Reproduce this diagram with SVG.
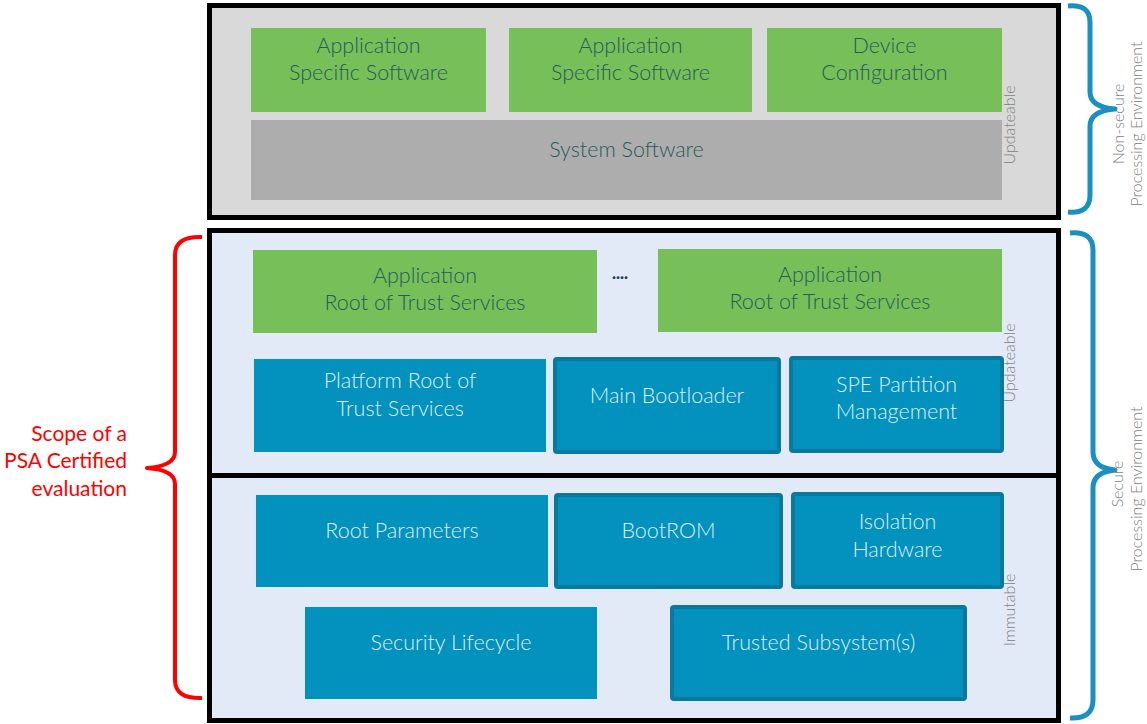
<svg xmlns="http://www.w3.org/2000/svg" width="1147" height="724" viewBox="0 0 1147 724">
  <style>
    .frame { stroke: #000; stroke-width: 5; }
    .green { fill: #77bf58; }
    .grey { fill: #adadad; }
    .blue { fill: #0391be; }
    .blue-b { fill: #0391be; stroke: #0b789d; stroke-width: 4; }
    .t-dark { font-family: Lato, "Open Sans", "Liberation Sans", sans-serif; font-weight: 300; font-size: 21.5px; fill: #285a5c; text-anchor: middle; }
    .t-light { font-family: Lato, "Open Sans", "Liberation Sans", sans-serif; font-weight: 300; font-size: 21.5px; fill: #dbeff7; text-anchor: middle; }
    .t-side { font-family: Lato, "Open Sans", "Liberation Sans", sans-serif; font-weight: 300; font-size: 16px; fill: #808080; text-anchor: middle; }
    .t-scope { font-family: Lato, "Open Sans", "Liberation Sans", sans-serif; font-weight: 400; font-size: 21px; fill: #ff0000; text-anchor: end; }
    .brace-blue { fill: none; stroke: #1a8fc1; stroke-width: 5; stroke-linejoin: round; }
    .brace-red { fill: none; stroke: #ff0000; stroke-width: 4; stroke-linejoin: round; }
  </style>

  <!-- Non-secure processing environment -->
  <g id="nspe">
    <rect class="frame" x="209.5" y="5.5" width="849" height="212" fill="#d9d9d9"/>
  </g>
  <g id="app-specific-1">
    <rect class="green" x="251" y="28" width="235" height="84"/>
    <text class="t-dark" x="368.5" y="53">Application</text>
    <text class="t-dark" x="368.5" y="80">Specific Software</text>
  </g>
  <g id="app-specific-2">
    <rect class="green" x="509" y="28" width="243" height="84"/>
    <text class="t-dark" x="630.5" y="53">Application</text>
    <text class="t-dark" x="630.5" y="80">Specific Software</text>
  </g>
  <g id="device-config">
    <rect class="green" x="767" y="28" width="235" height="84"/>
    <text class="t-dark" x="884.5" y="53">Device</text>
    <text class="t-dark" x="884.5" y="80">Configuration</text>
  </g>
  <g id="system-software">
    <rect class="grey" x="251" y="120" width="751" height="80"/>
    <text class="t-dark" x="626.5" y="157">System Software</text>
  </g>
  <text class="t-side" transform="translate(1015,125) rotate(-90)">Updateable</text>

  <!-- Secure processing environment -->
  <g id="spe">
    <rect class="frame" x="209.5" y="230.5" width="849" height="490" fill="#e3eaf7"/>
    <line class="frame" x1="209.5" y1="475.5" x2="1058.5" y2="475.5"/>
  </g>
  <g id="app-rot-1">
    <rect class="green" x="253" y="250" width="344" height="83"/>
    <text class="t-dark" x="425" y="283">Application</text>
    <text class="t-dark" x="425" y="310">Root of Trust Services</text>
  </g>
  <text x="620" y="279" font-family="Lato, 'Liberation Sans', sans-serif" font-weight="900" font-size="17" fill="#1f3d4f" text-anchor="middle">....</text>
  <g id="app-rot-2">
    <rect class="green" x="658" y="249" width="344" height="83"/>
    <text class="t-dark" x="830" y="282">Application</text>
    <text class="t-dark" x="830" y="309">Root of Trust Services</text>
  </g>
  <g id="platform-rot">
    <rect class="blue" x="254" y="359" width="292" height="93"/>
    <text class="t-light" x="400" y="388">Platform Root of</text>
    <text class="t-light" x="400" y="416">Trust Services</text>
  </g>
  <g id="main-bootloader">
    <rect class="blue-b" x="555" y="359" width="224" height="93" rx="2"/>
    <text class="t-light" x="667" y="403">Main Bootloader</text>
  </g>
  <g id="spe-partition">
    <rect class="blue-b" x="791" y="358" width="211" height="93" rx="2"/>
    <text class="t-light" x="896.5" y="392">SPE Partition</text>
    <text class="t-light" x="896.5" y="419">Management</text>
  </g>
  <text class="t-side" transform="translate(1015,363) rotate(-90)">Updateable</text>

  <g id="root-parameters">
    <rect class="blue" x="256" y="495" width="292" height="92"/>
    <text class="t-light" x="402" y="538">Root Parameters</text>
  </g>
  <g id="bootrom">
    <rect class="blue-b" x="556" y="495" width="225" height="92" rx="2"/>
    <text class="t-light" x="668.5" y="538">BootROM</text>
  </g>
  <g id="isolation-hw">
    <rect class="blue-b" x="793" y="494" width="209" height="93" rx="2"/>
    <text class="t-light" x="897.5" y="529">Isolation</text>
    <text class="t-light" x="897.5" y="557">Hardware</text>
  </g>
  <g id="security-lifecycle">
    <rect class="blue" x="305" y="607" width="292" height="92"/>
    <text class="t-light" x="451" y="650">Security Lifecycle</text>
  </g>
  <g id="trusted-subsystems">
    <rect class="blue-b" x="672" y="607" width="293" height="92" rx="2"/>
    <text class="t-light" x="818.5" y="650">Trusted Subsystem(s)</text>
  </g>
  <text class="t-side" transform="translate(1015,610) rotate(-90)">Immutable</text>

  <!-- Braces -->
  <g id="connectors">
    <path class="brace-blue" d="M1068,6 Q1090,4 1090,22 L1090,92 Q1090,107 1115,109 Q1090,111 1090,126 L1090,195 Q1090,214 1068,212"/>
    <path class="brace-blue" d="M1070,233 Q1093,231 1093,250 L1093,452 Q1093,468 1115,470 Q1093,472 1093,488 L1093,700 Q1093,719 1070,718"/>
    <path class="brace-red" d="M202,237 Q175,236 175,255 L175,452 Q175,466 147,468 Q175,470 175,484 L175,680 Q175,699 202,698"/>
  </g>

  <g id="side-labels">
    <text class="t-side" transform="translate(1124,124) rotate(-90)">Non-secure</text>
    <text class="t-side" transform="translate(1142,124) rotate(-90)">Processing Environment</text>
    <text class="t-side" transform="translate(1123,484) rotate(-90)">Secure</text>
    <text class="t-side" transform="translate(1142,489) rotate(-90)">Processing Environment</text>
  </g>

  <g id="scope-label">
    <text class="t-scope" x="127" y="441">Scope of a</text>
    <text class="t-scope" x="127" y="468">PSA Certified</text>
    <text class="t-scope" x="127" y="496">evaluation</text>
  </g>
</svg>
